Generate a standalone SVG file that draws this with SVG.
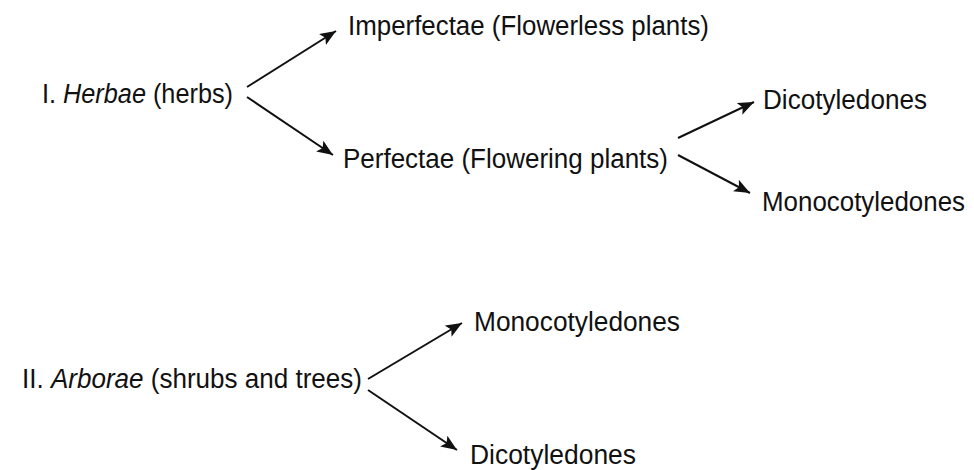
<svg xmlns="http://www.w3.org/2000/svg" width="974" height="470" viewBox="0 0 974 470">
<style>
text{font-family:"Liberation Sans",Arial,sans-serif;font-size:27px;fill:#111}
.it{font-style:italic}
.c{stroke:#111;stroke-width:2;fill:none}
</style>
<defs>
<marker id="ah" markerUnits="userSpaceOnUse" markerWidth="18" markerHeight="14" refX="16" refY="6.5" orient="auto">
<path d="M0,0 L16,6.5 L0,13 L3.5,6.5 z" fill="#111"/>
</marker>
</defs>
<rect width="974" height="470" fill="#fff"/>
<g id="connectors">
<line class="c" x1="247" y1="87" x2="336" y2="31" marker-end="url(#ah)"/>
<line class="c" x1="247" y1="97" x2="333" y2="155" marker-end="url(#ah)"/>
<line class="c" x1="678" y1="138" x2="754" y2="102" marker-end="url(#ah)"/>
<line class="c" x1="678" y1="155" x2="750" y2="193" marker-end="url(#ah)"/>
<line class="c" x1="368" y1="379" x2="462" y2="323" marker-end="url(#ah)"/>
<line class="c" x1="368" y1="390" x2="457" y2="450" marker-end="url(#ah)"/>
</g>
<g id="herbae"><text x="42" y="103" textLength="191" lengthAdjust="spacingAndGlyphs">I. <tspan class="it">Herbae</tspan> (herbs)</text></g>
<g id="imperfectae"><text x="348" y="35" textLength="361" lengthAdjust="spacingAndGlyphs">Imperfectae (Flowerless plants)</text></g>
<g id="perfectae"><text x="343" y="168" textLength="325" lengthAdjust="spacingAndGlyphs">Perfectae (Flowering plants)</text></g>
<g id="dicot1"><text x="763" y="109" textLength="164" lengthAdjust="spacingAndGlyphs">Dicotyledones</text></g>
<g id="monocot1"><text x="762" y="211" textLength="203" lengthAdjust="spacingAndGlyphs">Monocotyledones</text></g>
<g id="arborae"><text x="22" y="388" textLength="340" lengthAdjust="spacingAndGlyphs">II. <tspan class="it">Arborae</tspan> (shrubs and trees)</text></g>
<g id="monocot2"><text x="474" y="331" textLength="206" lengthAdjust="spacingAndGlyphs">Monocotyledones</text></g>
<g id="dicot2"><text x="470" y="464" textLength="166" lengthAdjust="spacingAndGlyphs">Dicotyledones</text></g>
</svg>
